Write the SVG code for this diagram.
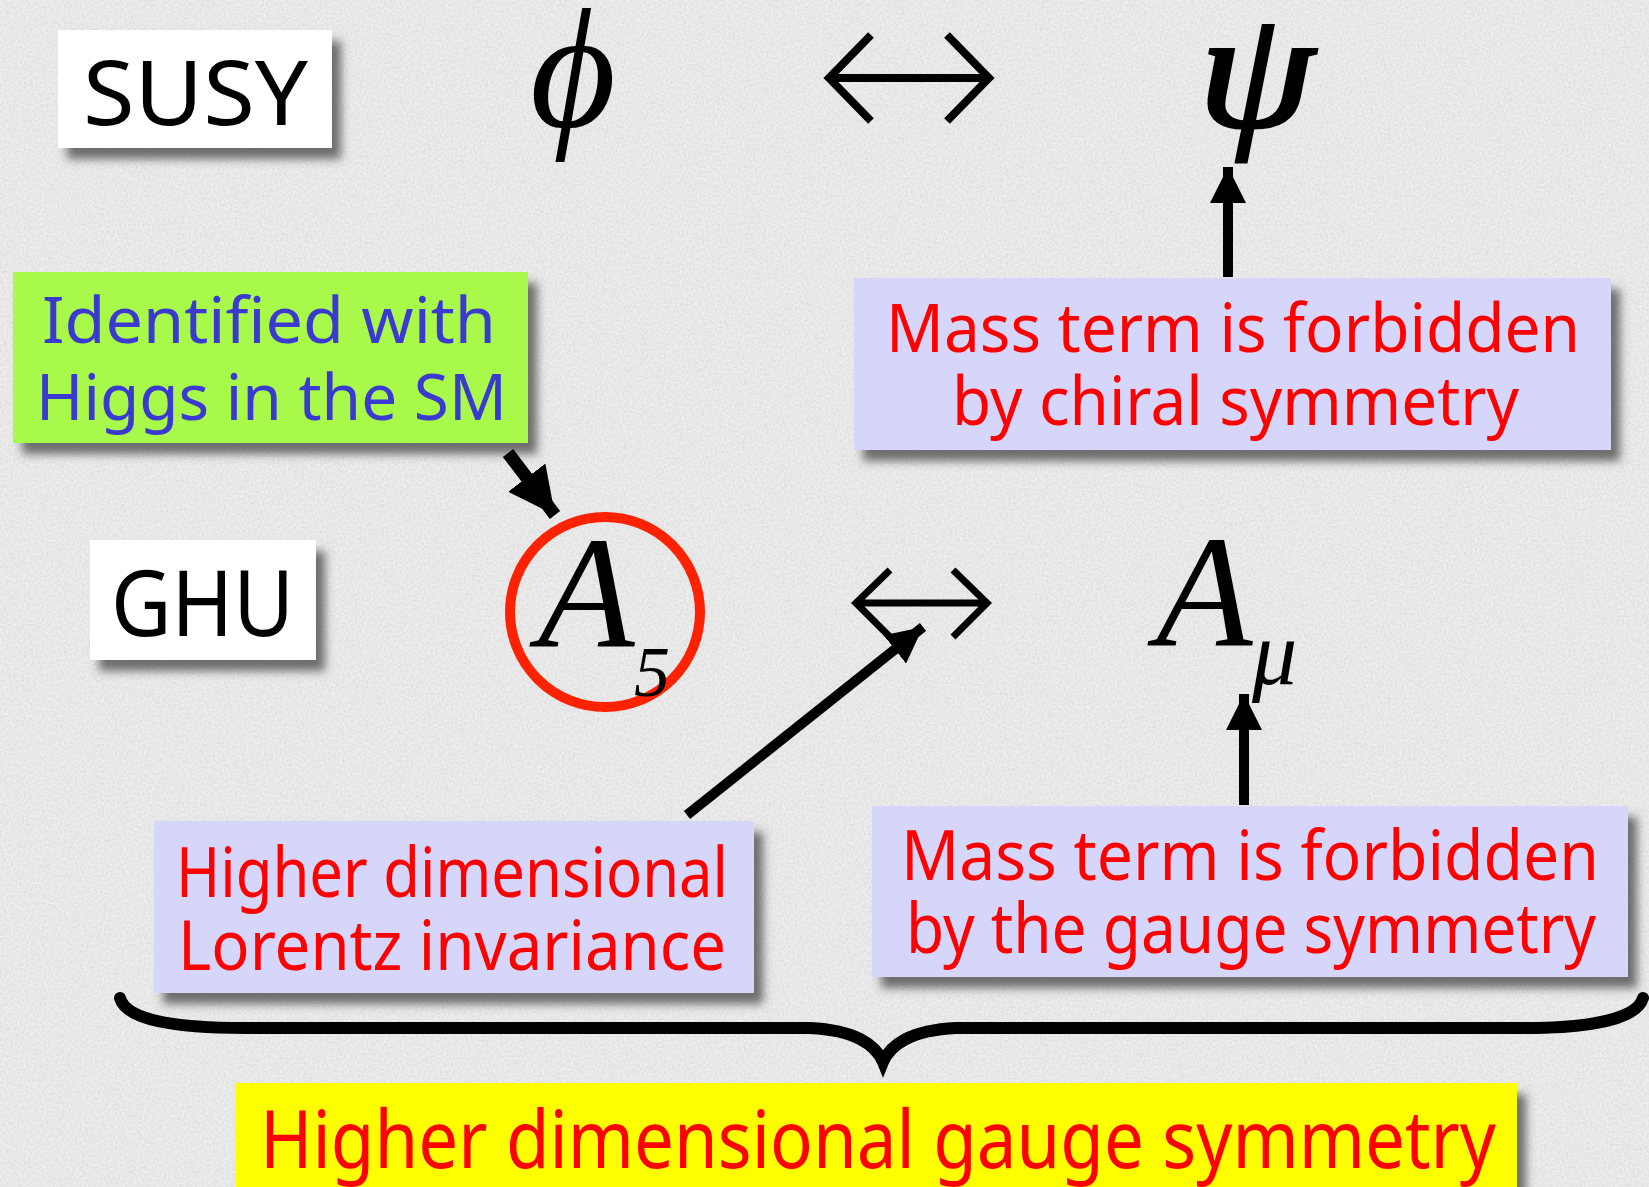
<svg xmlns="http://www.w3.org/2000/svg" width="1649" height="1187" viewBox="0 0 1649 1187">
<style>
.lbl{font-family:"Noto Sans","DejaVu Sans",sans-serif;}
.red{fill:#ff0000;}
.blue{fill:#3a3ad0;}
.math{font-family:"Liberation Serif","DejaVu Serif",serif;font-style:italic;fill:#000;}
.box{filter:url(#sh);}
.conn{stroke:#000;fill:none;}
</style>
<defs>
<filter id="sh" x="-10%" y="-10%" width="130%" height="140%">
<feDropShadow dx="9" dy="11" stdDeviation="5" flood-color="#444" flood-opacity="0.75"/>
</filter>
<filter id="noise" x="0" y="0" width="100%" height="100%">
<feTurbulence type="fractalNoise" baseFrequency="0.45" numOctaves="2" seed="3"/>
<feColorMatrix type="matrix" values="0 0 0 0 0.55  0 0 0 0 0.55  0 0 0 0 0.55  0 0 0 -1.6 1.1"/>
</filter>
<marker id="ah" viewBox="0 0 10 10" refX="10" refY="5" markerWidth="3.6" markerHeight="3.6" markerUnits="strokeWidth" orient="auto">
<path d="M0,0 L10,5 L0,10 z" fill="#000"/>
</marker>
</defs>
<rect x="0" y="0" width="1649" height="1187" fill="#ededed"/>
<rect x="0" y="0" width="1649" height="1187" filter="url(#noise)" opacity="0.45"/>

<g id="susy">
<rect class="box" x="58" y="30" width="274" height="118" fill="#ffffff"/>
<text class="lbl" x="83" y="125" font-size="90" textLength="225" lengthAdjust="spacingAndGlyphs" fill="#000">SUSY</text>
</g>
<g id="ghu">
<rect class="box" x="90" y="540" width="226" height="120" fill="#ffffff"/>
<text class="lbl" x="111" y="636" font-size="92" textLength="183" lengthAdjust="spacingAndGlyphs" fill="#000">GHU</text>
</g>
<g id="phi">
<text class="math" x="530" y="126" font-size="170" textLength="86" lengthAdjust="spacingAndGlyphs">ϕ</text>
</g>
<g id="psi">
<text class="math" x="1198" y="126" font-size="168" stroke="#000" stroke-width="3" textLength="116" lengthAdjust="spacingAndGlyphs">ψ</text>
</g>
<g id="A5">
<ellipse cx="605" cy="612" rx="95" ry="95" fill="none" stroke="#ff2200" stroke-width="10"/>
<text class="math" x="538" y="646" font-size="158">A</text>
<text class="math" x="634" y="696" font-size="72" font-style="normal">5</text>
</g>
<g id="Amu">
<text class="math" x="1156" y="645" font-size="158">A</text>
<text class="math" x="1252" y="684" font-size="90">μ</text>
</g>
<g id="identified">
<rect class="box" x="13" y="272" width="515" height="171" fill="#a8f948"/>
<text class="lbl blue" x="42" y="343" font-size="64" textLength="454" lengthAdjust="spacingAndGlyphs">Identified with</text>
<text class="lbl blue" x="36" y="420" font-size="64" textLength="471" lengthAdjust="spacingAndGlyphs">Higgs in the SM</text>
</g>
<g id="chiral">
<rect class="box" x="854" y="278" width="757" height="172" fill="#d6d6fb"/>
<text class="lbl red" x="886" y="352" font-size="68" textLength="694" lengthAdjust="spacingAndGlyphs">Mass term is forbidden</text>
<text class="lbl red" x="952" y="425" font-size="68" textLength="567" lengthAdjust="spacingAndGlyphs">by chiral symmetry</text>
</g>
<g id="lorentz">
<rect class="box" x="154" y="821" width="600" height="172" fill="#d6d6fb"/>
<text class="lbl red" x="176" y="897" font-size="70" textLength="552" lengthAdjust="spacingAndGlyphs">Higher dimensional</text>
<text class="lbl red" x="178" y="970" font-size="70" textLength="548" lengthAdjust="spacingAndGlyphs">Lorentz invariance</text>
</g>
<g id="gauge">
<rect class="box" x="872" y="806" width="756" height="171" fill="#d6d6fb"/>
<text class="lbl red" x="901" y="880" font-size="70" textLength="698" lengthAdjust="spacingAndGlyphs">Mass term is forbidden</text>
<text class="lbl red" x="906" y="953" font-size="70" textLength="690" lengthAdjust="spacingAndGlyphs">by the gauge symmetry</text>
</g>
<g id="hdgs">
<rect class="box" x="236" y="1083" width="1281" height="120" fill="#ffff00"/>
<text class="lbl red" x="260" y="1168" font-size="80" textLength="1236" lengthAdjust="spacingAndGlyphs">Higher dimensional gauge symmetry</text>
</g>

<g id="connectors">
<path class="conn" stroke-width="8" d="M829,78 H989 M871,35 L829,78 L871,121 M947,35 L989,78 L947,121"/>
<path class="conn" stroke-width="7" d="M856,603 H987 M890,570 L856,603 L890,637 M953,570 L987,603 L953,637"/>
<line class="conn" x1="1228" y1="277" x2="1228" y2="167" stroke-width="10" marker-end="url(#ah)"/>
<line class="conn" x1="1244" y1="805" x2="1244" y2="694" stroke-width="10" marker-end="url(#ah)"/>
<line class="conn" x1="508" y1="453" x2="555" y2="515" stroke-width="13" marker-end="url(#ah)"/>
<line class="conn" x1="687" y1="815" x2="923" y2="627" stroke-width="10" marker-end="url(#ah)"/>
<path class="conn" stroke-width="12" stroke-linecap="round" d="M120,998 C126,1020 175,1028 245,1028 L810,1028 C855,1030 876,1045 883,1062 C890,1045 911,1030 956,1028 L1525,1028 C1600,1028 1638,1016 1643,998"/>
</g>
</svg>
